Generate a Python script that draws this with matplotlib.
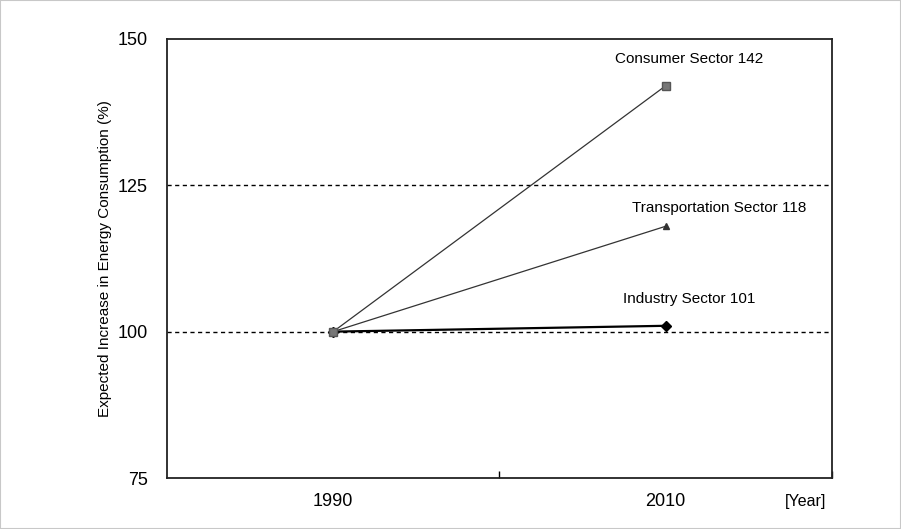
import matplotlib
matplotlib.use("Agg")
import matplotlib.pyplot as plt
from matplotlib.patches import Rectangle

plt.rcParams['font.family'] = ['Liberation Sans Narrow', 'Liberation Sans', 'DejaVu Sans']

years = ["1990", "2010"]
consumer = [100, 142]
transport = [100, 118]
industry = [100, 101]
series_labels = ["Consumer Sector 142", "Transportation Sector 118", "Industry Sector 101"]
yticks = [75, 100, 125, 150]

fig = plt.figure(figsize=(9.01, 5.29), dpi=100)
ax = fig.add_axes([0.1853, 0.0964, 0.738, 0.830])
fig.patches.append(Rectangle((0, 0), 1, 1, transform=fig.transFigure, fill=False,
                             edgecolor='#c8c8c8', lw=1.5))

x = [0.5, 1.5]
ax.plot(x, industry, color='black', lw=1.6, marker='D', ms=5, mfc='black', mec='black', zorder=3)
ax.plot(x, transport, color='#333333', lw=0.9, marker='^', ms=4, mfc='#333333', mec='#333333', zorder=4)
ax.plot(x, consumer, color='#333333', lw=0.9, marker='s', ms=6, mfc='#777777', mec='#555555', zorder=5)

for yv in [100, 125]:
    ax.axhline(yv, color='black', lw=1, ls=(0, (3, 2.5)), zorder=0)

ax.set_xlim(0, 2)
ax.set_ylim(75, 150)
ax.set_yticks(yticks)
ax.set_yticklabels([str(v) for v in yticks], fontsize=13)
ax.tick_params(axis='y', length=0, pad=14)
ax.set_xticks([1.0, 2.0])
ax.set_xticklabels(["", ""])
ax.tick_params(axis='x', direction='in', length=5, width=1)
for i, yr in enumerate(years):
    ax.text(x[i], 71, yr, ha='center', va='center', fontsize=13, clip_on=False)
ax.text(1.92, 71, "[Year]", ha='center', va='center', fontsize=11.5, clip_on=False)

for s in ['left', 'bottom', 'right', 'top']:
    ax.spines[s].set_linewidth(1.3)
    ax.spines[s].set_color('#222222')

ax.text(1.57, 146.6, series_labels[0], ha='center', va='center', fontsize=11)
ax.text(1.66, 121.1, series_labels[1], ha='center', va='center', fontsize=11)
ax.text(1.57, 105.6, series_labels[2], ha='center', va='center', fontsize=11)

ax.set_ylabel("Expected Increase in Energy Consumption (%)", fontsize=11, labelpad=4)

fig.savefig("out.png", dpi=100)
